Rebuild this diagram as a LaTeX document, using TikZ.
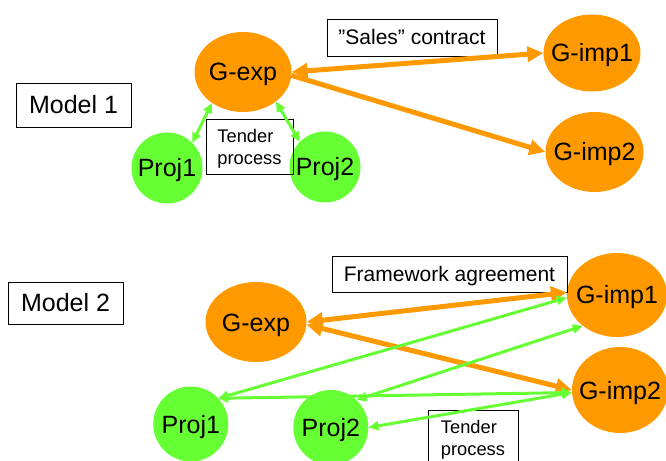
\documentclass[tikz,border=0pt]{standalone}
\usepackage{fontspec}
\setmainfont{Liberation Sans}
\usetikzlibrary{arrows.meta,shapes.geometric}
\definecolor{orng}{HTML}{FF9900}
\definecolor{grn}{HTML}{66FF33}
\begin{document}
\begin{tikzpicture}[x=1bp,y=-1bp,
  onode/.style={ellipse,fill=orng,inner sep=0pt,text height=18bp,text depth=0pt,
    font=\fontsize{25bp}{30bp}\selectfont},
  pnode/.style={circle,fill=grn,inner sep=0pt,text height=18bp,text depth=0pt,
    font=\fontsize{25bp}{30bp}\selectfont},
  lbox/.style={draw=black,line width=0.8bp,inner sep=0pt},
  bigtxt/.style={font=\fontsize{25bp}{30bp}\selectfont,text height=18bp,text depth=0pt},
  midtxt/.style={font=\fontsize{21bp}{25bp}\selectfont,text height=15bp,text depth=0pt},
  tendtxt/.style={font=\fontsize{18.3bp}{22bp}\selectfont,align=left},
  oboth/.style={draw=orng,line width=5bp,{Triangle[length=16bp,width=15bp]}-{Triangle[length=16bp,width=15bp]}},
  oone/.style={draw=orng,line width=5bp,-{Triangle[length=16bp,width=15bp]}},
  gboth/.style={draw=grn,line width=3bp,{Triangle[length=10bp,width=9bp]}-{Triangle[length=10bp,width=9bp]}}
]
\clip (0,0) rectangle (666,461);
\fill[white] (0,0) rectangle (666,461);

% ---------- Model 1 ----------
\node[onode,minimum width=97bp,minimum height=80bp] (gexpA) at (243,72) {\makebox[0pt]{G-exp}};
\node[onode,minimum width=97bp,minimum height=77bp] (gimp1A) at (592,53) {\makebox[0pt]{G-imp1}};
\node[onode,minimum width=98bp,minimum height=80bp] (gimp2A) at (594.5,152) {\makebox[0pt]{G-imp2}};
\node[pnode,minimum size=71bp] (proj1A) at (167,168) {\makebox[0pt]{Proj1}};
\node[pnode,minimum size=71bp] (proj2A) at (325,167) {\makebox[0pt]{Proj2}};

\node[lbox,bigtxt,minimum width=115bp,minimum height=44bp] (m1) at (73.5,105) {Model 1};
\node[lbox,midtxt,minimum width=170bp,minimum height=37bp] (sales) at (412,37.5) {”Sales” contract};
\node[lbox,tendtxt,minimum width=87bp,minimum height=55bp] (tendA) at (249.5,146.5) {\rule{0pt}{18bp}Tender\\process};

\draw[oboth] (gexpA.east) -- (gimp1A.west);
\draw[oone] (gexpA.-4) -- (gimp2A.west);
\draw[gboth] (proj1A.45) -- (gexpA.-135);
\draw[gboth] (proj2A.135) -- (gexpA.-42);

% ---------- Model 2 ----------
\node[onode,minimum width=101bp,minimum height=80bp] (gexpB) at (256,322) {\makebox[0pt]{G-exp}};
\node[onode,minimum width=100bp,minimum height=84bp] (gimp1B) at (617,295) {\makebox[0pt]{G-imp1}};
\node[onode,minimum width=96bp,minimum height=86bp] (gimp2B) at (620,390) {\makebox[0pt]{G-imp2}};
\node[pnode,minimum size=75bp] (proj1B) at (190.8,424) {\makebox[0pt]{Proj1}};
\node[pnode,minimum size=75bp] (proj2B) at (330.8,427.5) {\makebox[0pt]{Proj2}};

\node[lbox,bigtxt,minimum width=115bp,minimum height=42bp] (m2) at (65.5,303) {Model 2};
\node[lbox,midtxt,minimum width=235bp,minimum height=36bp] (frame) at (449.5,274) {Framework agreement};
\node[lbox,tendtxt,minimum width=90bp,minimum height=55bp] (tendB) at (473,437.5) {\rule{0pt}{18bp}Tender\\process};

\draw[oboth] (gexpB.east) -- (gimp1B.177);
\draw[oboth] (gexpB.-3) -- (gimp2B.west);
\draw[gboth] (proj1B.43) -- (gimp1B.183);
\draw[gboth] (proj2B.47) -- (gimp1B.-138);
\draw[gboth] (proj1B.43) -- (gimp2B.183);
\draw[gboth] (proj2B.east) -- (gimp2B.183);
\end{tikzpicture}
\end{document}
